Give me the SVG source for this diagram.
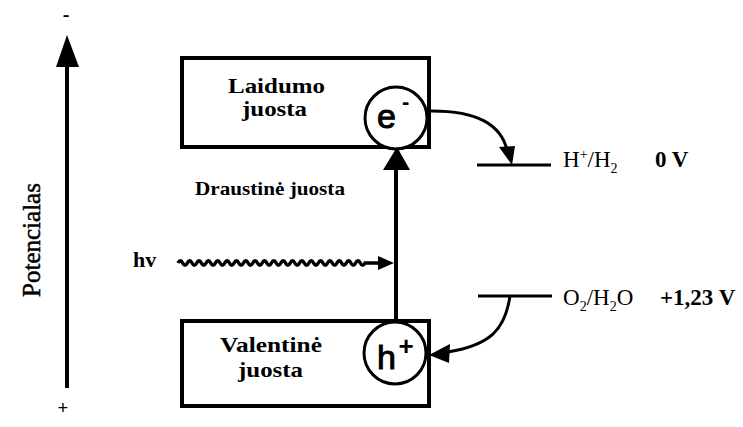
<svg xmlns="http://www.w3.org/2000/svg" width="743" height="427" viewBox="0 0 743 427">
<style>
.box{fill:none;stroke:#000;stroke-width:4}
.circ{fill:#fff;stroke:#000;stroke-width:3}
.ln{fill:none;stroke:#000;stroke-width:4}
.thin{fill:none;stroke:#000;stroke-width:3}
.hd{fill:#000;stroke:none}
.serif{font-family:"Liberation Serif","Times New Roman",serif;fill:#000}
.b{font-weight:bold}
.sans{font-family:"Liberation Sans",Arial,sans-serif;fill:#000}
</style>
<rect width="743" height="427" fill="#fff"/>
<g id="axis">
<line class="ln" x1="67" y1="388" x2="67" y2="64"/>
<polygon class="hd" points="56,67 79,67 67,35"/>
<text class="serif b" x="66" y="21" font-size="20" text-anchor="middle">-</text>
<text class="serif b" x="63" y="414" font-size="19" text-anchor="middle">+</text>
<text class="serif" transform="translate(40,240) rotate(-90)" font-size="25" text-anchor="middle" stroke="#000" stroke-width="0.5">Potencialas</text>
</g>
<g id="conduction-band">
<rect class="box" x="182" y="58" width="247" height="89"/>
<text class="serif b" x="228" y="93" font-size="22" textLength="97" lengthAdjust="spacingAndGlyphs">Laidumo</text>
<text class="serif b" x="242" y="116" font-size="22" textLength="65" lengthAdjust="spacingAndGlyphs">juosta</text>
</g>
<g id="electron">
<circle class="circ" cx="396" cy="118" r="31"/>
<text class="sans" x="377" y="128" font-size="34" stroke="#000" stroke-width="1">e</text>
<text class="sans b" x="402" y="109" font-size="22">-</text>
</g>
<g id="band-gap-label">
<text class="serif b" x="195" y="195" font-size="19" textLength="150" lengthAdjust="spacingAndGlyphs">Draustinė juosta</text>
</g>
<g id="valence-band">
<rect class="box" x="182" y="321" width="247" height="85"/>
<text class="serif b" x="220" y="352" font-size="21" textLength="102" lengthAdjust="spacingAndGlyphs">Valentinė</text>
<text class="serif b" x="238" y="377" font-size="21" textLength="65" lengthAdjust="spacingAndGlyphs">juosta</text>
</g>
<g id="hole">
<circle class="circ" cx="395" cy="353" r="31"/>
<text class="sans" x="377" y="369" font-size="34" stroke="#000" stroke-width="1">h</text>
<text class="sans b" x="398.5" y="355" font-size="26">+</text>
</g>
<g id="photon-label">
<text class="serif b" x="133" y="267" font-size="22">hv</text>
</g>
<g id="h-level">
<line class="thin" x1="477" y1="165" x2="551" y2="165"/>
<text class="serif" x="563" y="167" font-size="23">H<tspan font-size="14" dy="-8">+</tspan><tspan dy="8">/H</tspan><tspan font-size="14" dy="6">2</tspan></text>
<text class="serif b" x="655" y="167" font-size="23">0 V</text>
</g>
<g id="o-level">
<line class="thin" x1="478" y1="296" x2="552" y2="296"/>
<text class="serif" x="563" y="305" font-size="23">O<tspan font-size="14" dy="6">2</tspan><tspan dy="-6">/H</tspan><tspan font-size="14" dy="6">2</tspan><tspan dy="-6">O</tspan></text>
<text class="serif b" x="660" y="305" font-size="23">+1,23 V</text>
</g>
<g id="connectors">
<line class="ln" x1="396" y1="322" x2="396" y2="166"/>
<polygon class="hd" points="383,170 410,170 397,147"/>
<path fill="none" stroke="#000" stroke-width="3.5" d="M178,263 q2.34,-4.5 4.675,0 t4.675,0 t4.675,0 t4.675,0 t4.675,0 t4.675,0 t4.675,0 t4.675,0 t4.675,0 t4.675,0 t4.675,0 t4.675,0 t4.675,0 t4.675,0 t4.675,0 t4.675,0 t4.675,0 t4.675,0 t4.675,0 t4.675,0 t4.675,0 t4.675,0 t4.675,0 t4.675,0 t4.675,0 t4.675,0 t4.675,0 t4.675,0 t4.675,0 t4.675,0 t4.675,0 t4.675,0 t4.675,0 t4.675,0 t4.675,0 t4.675,0 t4.675,0 t4.675,0 t4.675,0 t4.675,0 L380,263"/>
<polygon class="hd" points="378,256 394,263 378,270"/>
<path class="thin" d="M427,111 C470,110 500,120 507,150"/>
<polygon class="hd" points="499,147 515,146 512,165"/>
<path class="thin" d="M510,296 C505,330 490,345 448,352"/>
<polygon class="hd" points="429,355 450,344 449,363"/>
</g>
</svg>
